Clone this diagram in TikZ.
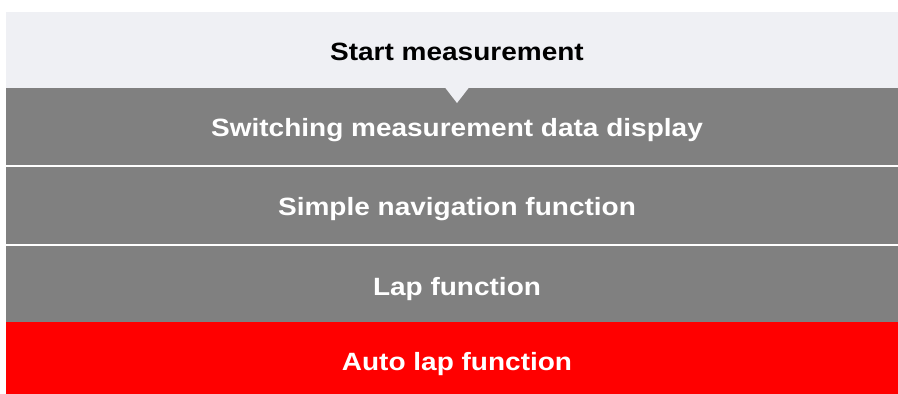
\documentclass[tikz,border=0pt]{standalone}
\usepackage{fontspec}
\setmainfont{Liberation Sans}
\newfontfamily\bandfont[FakeStretch=1.12]{Liberation Sans}
\definecolor{lightband}{HTML}{EFF0F4}
\definecolor{grayband}{HTML}{808080}
\definecolor{redband}{HTML}{FF0000}
\begin{document}
\begin{tikzpicture}[x=1pt,y=-1pt,
  lbl/.style={font=\bandfont\fontsize{25}{30}\selectfont\bfseries, inner sep=0pt, anchor=base},
]
\useasboundingbox (0,0) rectangle (898,394);
\fill[white] (0,0) rectangle (898,394);
\fill[lightband] (6,12) rectangle (908,88);
\fill[grayband] (6,88) rectangle (908,165);
\fill[grayband] (6,167) rectangle (908,244);
\fill[grayband] (6,246) rectangle (908,322);
\fill[redband] (6,322) rectangle (908,394);
\fill[lightband] (445,87.5) -- (469,87.5) -- (457,103) -- cycle;
\node[lbl, text=black] (t0) at (457,60) {Start measurement};
\node[lbl, text=white] (t1) at (457,136) {Switching measurement data display};
\node[lbl, text=white] (t2) at (457,215.5) {Simple navigation function};
\node[lbl, text=white] (t3) at (457,295) {Lap function};
\node[lbl, text=white] (t4) at (457,370.5) {Auto lap function};
\end{tikzpicture}
\end{document}
